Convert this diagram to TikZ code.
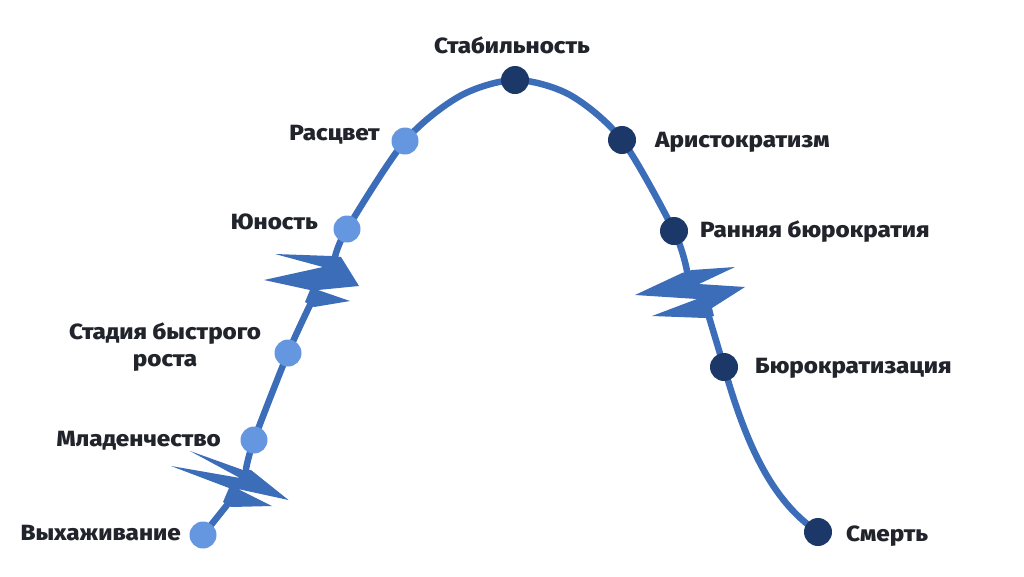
\documentclass[tikz,border=0pt]{standalone}
\usepackage{fontspec}
\setmainfont{Fira Sans}
\IfFontExistsTF{Fira Sans ExtraBold}
 {\newfontfamily\labfam{Fira Sans ExtraBold}[FakeStretch=1.1]\newcommand\labfont{\labfam}}
 {\newfontfamily\labfam{Fira Sans}[FakeStretch=1.1]\newcommand\labfont{\labfam\bfseries}}
\definecolor{lc}{HTML}{3C6DB8}
\definecolor{lightdot}{HTML}{6497DF}
\definecolor{darkdot}{HTML}{1B3868}
\definecolor{txt}{HTML}{22242C}
\begin{document}
\begin{tikzpicture}[x=1pt,y=-1pt,
  lbl/.style={font=\labfont\fontsize{22}{27}\selectfont, text=txt, inner sep=0pt},
  ln/.style={draw=lc, line width=6.5pt, line join=round, line cap=round},
  zz/.style={fill=lc, draw=none},
  ldot/.style={circle, fill=lightdot, minimum size=27pt, inner sep=0pt},
  ddot/.style={circle, fill=darkdot, minimum size=28pt, inner sep=0pt}]
\useasboundingbox (0,0) rectangle (1024,576);
% positions of the stages
\coordinate (c1) at (203,535);
\coordinate (c2) at (254,440);
\coordinate (c3) at (288,353);
\coordinate (c4) at (347,229);
\coordinate (c5) at (405,141);
\coordinate (c6) at (515,80);
\coordinate (c7) at (622,140);
\coordinate (c8) at (674,231);
\coordinate (c9) at (724,367);
\coordinate (c10) at (818,532);
% ends of the lines at the breaks
\coordinate (z1a) at (246,469);
\coordinate (z1b) at (227,505);
\coordinate (z2a) at (335,257);
\coordinate (z2b) at (310,305);
\coordinate (z3a) at (687,271);
\coordinate (z3b) at (709,317);
\coordinate (h1) at (460,96);
\coordinate (h2) at (570,95);
% curve
\draw[ln] (c1) -- (z1b);
\draw[ln] plot[smooth] coordinates {(z1a) (c2) (c3) (z2b)};
\draw[ln] plot[smooth] coordinates {(z2a) (c4) (c5) (h1) (c6) (h2) (c7) (c8) (z3a)};
\draw[ln] (z3b) -- (c9) .. controls (745,440) and (770,500) .. (c10);
% breaks
\fill[zz] (243,470) -- (190,451) -- (240,478) -- (171,466) -- (229,488) -- (223,502) -- (231,507) -- (272,506) -- (238,489) -- (288.5,500) -- (251,470) -- cycle;
\fill[zz] (331,256) -- (275,254) -- (323,267) -- (264,280) -- (310,290) -- (305,302) -- (314,307) -- (350,301) -- (318,290) -- (359,286) -- (341,257) -- cycle;
\fill[zz] (692,270) -- (735,267) -- (699,284) -- (745,287) -- (712,308) -- (714,316) -- (705,318) -- (652,316) -- (697,299) -- (635,295) -- (682,273) -- cycle;
% dots
\node[ldot] (d1) at (c1) {};
\node[ldot] (d2) at (c2) {};
\node[ldot] (d3) at (c3) {};
\node[ldot] (d4) at (c4) {};
\node[ldot] (d5) at (c5) {};
\node[ddot] (d6) at (c6) {};
\node[ddot] (d7) at (c7) {};
\node[ddot] (d8) at (c8) {};
\node[ddot] (d9) at (c9) {};
\node[ddot] (d10) at (c10) {};
% labels
\node[lbl, anchor=base] (t6) at (512,53) {Стабильность};
\node[lbl, anchor=base east] (t5) at (380,140) {Расцвет};
\node[lbl, anchor=base west] (t7) at (655,147) {Аристократизм};
\node[lbl, anchor=base east] (t4) at (318,229) {Юность};
\node[lbl, anchor=base west] (t8) at (700,237) {Ранняя бюрократия};
\node[lbl, anchor=base, align=center] (t3) at (165,366) {Стадия быстрого\\роста};
\node[lbl, anchor=base west] (t9) at (755,373) {Бюрократизация};
\node[lbl, anchor=base east] (t2) at (221,446) {Младенчество};
\node[lbl, anchor=base west] (t10) at (846,541) {Смерть};
\node[lbl, anchor=base east] (t1) at (181,540) {Выхаживание};
\end{tikzpicture}
\end{document}
